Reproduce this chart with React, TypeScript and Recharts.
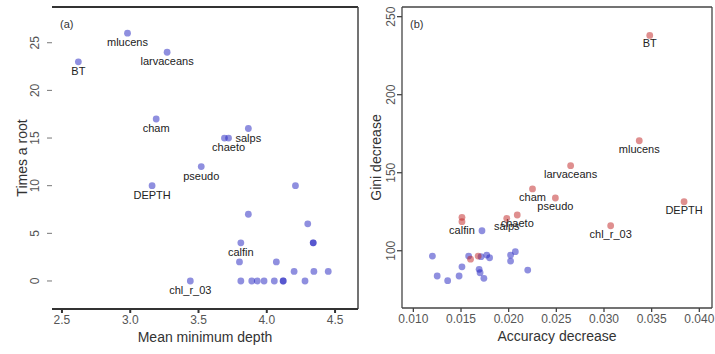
import { ScatterChart, Scatter, XAxis, YAxis, ReferenceLine, Label } from "recharts";

// panel (a): mean minimum depth vs times a root
const depthNames = [
  "BT", "mlucens", "larvaceans", "cham", "", "chaeto", "salps", "pseudo", "DEPTH", "",
  "", "", "", "", "calfin", "", "", "", "", "",
  "chl_r_03", "", "", "", "", "", "", "", "",
];
const meanMinDepth = [
  2.62, 2.98, 3.27, 3.19, 3.69, 3.72, 3.865, 3.52, 3.16, 4.21,
  3.865, 4.3, 4.34, 4.34, 3.81, 3.8, 4.07, 4.2, 4.345, 4.45,
  3.44, 3.81, 3.89, 3.93, 3.98, 4.055, 4.12, 4.12, 4.28,
];
const timesRoot = [
  23, 26, 24, 17, 15, 15, 16, 12, 10, 10,
  7, 6, 4, 4, 4, 2, 2, 1, 1, 1,
  0, 0, 0, 0, 0, 0, 0, 0, 0,
];

// panel (b): accuracy decrease vs gini decrease
const topNames = ["BT", "mlucens", "larvaceans", "cham", "pseudo", "DEPTH", "chl_r_03", "chaeto", "salps", "", "calfin", "", ""];
const topAccuracy = [0.0348, 0.0337, 0.0265, 0.0225, 0.0249, 0.0384, 0.0307, 0.0209, 0.0198, 0.0151, 0.0151, 0.016, 0.0168];
const topGini = [238, 170.5, 154.5, 139.6, 133.8, 131.4, 116, 122.9, 120.8, 121.4, 118.6, 94.6, 96.6];

const restAccuracy = [0.0172, 0.012, 0.0125, 0.0136, 0.0148, 0.0151, 0.0158, 0.0171, 0.0169, 0.017, 0.0174, 0.0177, 0.018, 0.0202, 0.0207, 0.0202, 0.022];
const restGini = [112.8, 96.6, 83.8, 80.8, 83.8, 89.7, 96.6, 96.2, 88.1, 85.9, 82.3, 97.2, 95.5, 97.2, 99.4, 93.4, 87.6];

const depthTicks = [2.5, 3, 3.5, 4, 4.5];
const rootTicks = [0, 5, 10, 15, 20, 25];
const accTicks = [0.01, 0.015, 0.02, 0.025, 0.03, 0.035, 0.04];
const giniTicks = [100, 150, 200, 250];

const depthDomain = [2.427, 4.668];
const rootDomain = [-2.94, 28.75];
const accDomain = [0.00881, 0.04133];
const giniDomain = [63.3, 256.2];

const depthData = meanMinDepth.map((x, i) => ({ x, y: timesRoot[i], name: depthNames[i] }));
const topData = topAccuracy.map((x, i) => ({ x, y: topGini[i], name: topNames[i] }));
const restData = restAccuracy.map((x, i) => ({ x, y: restGini[i], name: "" }));

const FONT = '"Liberation Sans", Arial, sans-serif';
const BLUE = "#2020c0";
const RED = "#c02020";

const dot = (fill: string, dy: number) => (p: any) => (
  <g>
    <circle cx={p.cx} cy={p.cy} r={3.4} fill={fill} fillOpacity={0.5} />
    {p.payload.name ? (
      <text x={p.cx} y={p.cy + dy} textAnchor="middle" fontSize={11} fill="#222" fontFamily={FONT}>
        {p.payload.name}
      </text>
    ) : null}
  </g>
);

const yTick = (bx: number) => (p: any) => (
  <text x={bx} y={p.y} transform={`rotate(-90 ${bx} ${p.y})`} textAnchor="middle" fontSize={12} fill="#555" fontFamily={FONT}>
    {p.payload.value}
  </text>
);

const xTick = (digits: number) => (p: any) => (
  <text x={p.x} y={p.y} dy="0.75em" textAnchor="middle" fontSize={12} fill="#555" fontFamily={FONT}>
    {Number(p.payload.value).toFixed(digits)}
  </text>
);

const xTitle = (txt: string) => (p: any) => {
  const vb = p.viewBox;
  return (
    <text x={vb.x + vb.width / 2} y={vb.y + 33} textAnchor="middle" fontSize={14} fill="#333" fontFamily={FONT}>
      {txt}
    </text>
  );
};

const yTitle = (txt: string, bx: number) => (p: any) => {
  const vb = p.viewBox;
  const cy = vb.y + vb.height / 2;
  return (
    <text x={bx} y={cy} transform={`rotate(-90 ${bx} ${cy})`} textAnchor="middle" fontSize={14} fill="#333" fontFamily={FONT}>
      {txt}
    </text>
  );
};

const tag = (txt: string) => (p: any) => {
  const vb = p.viewBox;
  return (
    <text x={vb.x + 8} y={vb.y + 21} fontSize={11} fill="#333" fontFamily={FONT}>
      {txt}
    </text>
  );
};

export default function App() {
  return (
    <div style={{ position: "absolute", left: 0, top: 0, width: 715, height: 354, background: "#fff" }}>
      <div style={{ position: "absolute", left: 0, top: 0 }}>
        <ScatterChart width={360} height={354} margin={{ top: 7, right: 2, left: 0, bottom: 0 }}>
          <XAxis
            type="number"
            dataKey="x"
            domain={depthDomain}
            ticks={depthTicks}
            allowDataOverflow
            height={45}
            tickSize={4}
            tickMargin={2}
            stroke="#333"
            strokeWidth={2}
            tick={xTick(1)}
          >
            <Label content={xTitle("Mean minimum depth")} />
          </XAxis>
          <YAxis
            type="number"
            dataKey="y"
            domain={rootDomain}
            ticks={rootTicks}
            allowDataOverflow
            width={52}
            axisLine={false}
            tickSize={5}
            tickLine={{ stroke: "#777" }}
            tick={yTick(39.5)}
          >
            <Label content={yTitle("Times a root", 27)} />
          </YAxis>
          <ReferenceLine y={rootDomain[1]} stroke="#333" strokeWidth={2}>
            <Label content={tag("(a)")} />
          </ReferenceLine>
          <ReferenceLine x={depthDomain[1]} stroke="#444" strokeWidth={1.5} />
          <Scatter data={depthData} isAnimationActive={false} shape={dot(BLUE, 13)} />
        </ScatterChart>
      </div>
      <div style={{ position: "absolute", left: 360, top: 0 }}>
        <ScatterChart width={355} height={354} margin={{ top: 7, right: 3, left: 0, bottom: 0 }}>
          <XAxis
            type="number"
            dataKey="x"
            domain={accDomain}
            ticks={accTicks}
            allowDataOverflow
            height={46}
            tickSize={4}
            tickMargin={2}
            stroke="#444"
            strokeWidth={1.3}
            tick={xTick(3)}
          >
            <Label content={xTitle("Accuracy decrease")} />
          </XAxis>
          <YAxis
            type="number"
            dataKey="y"
            domain={giniDomain}
            ticks={giniTicks}
            allowDataOverflow
            width={42}
            tickSize={5}
            stroke="#444"
            strokeWidth={1.3}
            tick={yTick(35.5)}
          >
            <Label content={yTitle("Gini decrease", 20.5)} />
          </YAxis>
          <ReferenceLine y={giniDomain[1]} stroke="#444" strokeWidth={1.3}>
            <Label content={tag("(b)")} />
          </ReferenceLine>
          <ReferenceLine x={accDomain[1]} stroke="#444" strokeWidth={1.3} />
          <Scatter data={restData} isAnimationActive={false} shape={dot(BLUE, 12)} />
          <Scatter data={topData} isAnimationActive={false} shape={dot(RED, 12)} />
        </ScatterChart>
      </div>
    </div>
  );
}
